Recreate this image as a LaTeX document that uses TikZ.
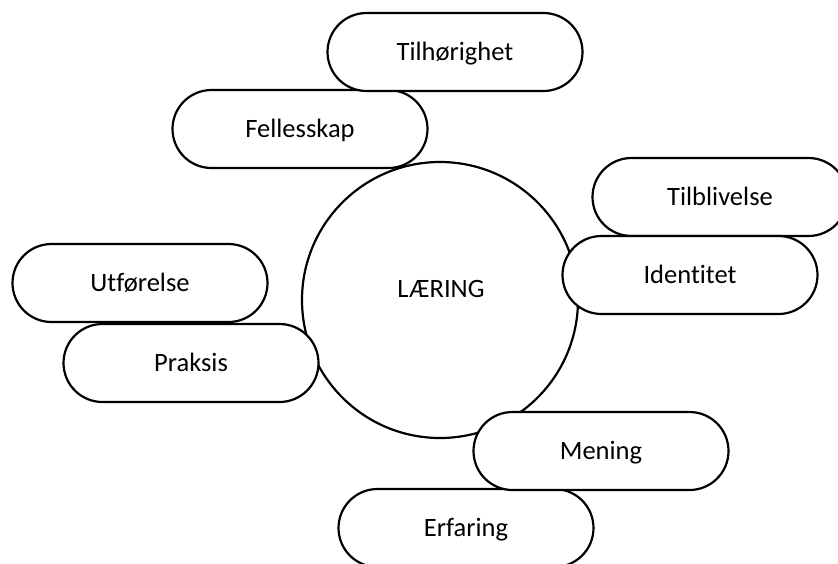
\documentclass[tikz,border=0pt]{standalone}
\usepackage{fontspec}
\setmainfont{Carlito}[Ligatures=NoCommon]

\begin{document}
\begin{tikzpicture}
[x=1pt,y=-1pt,
  textDecorate/.style={font=\fontsize{26.5}{32}\selectfont,text height=17pt,text depth=0pt},%
  circleDecorate/.style={shape=circle,draw,line width=2.2pt,fill=white,minimum size=276pt,inner sep=0pt},%
  boxDecorate/.style={shape=rectangle,rounded corners=39pt,draw,line width=2.2pt,fill=white,minimum width=255pt,minimum height=78pt,textDecorate}]
\useasboundingbox (0,0) rectangle (838,563);
%% centre
\node (laering) at (440,300) [circleDecorate] {};
\node (laeringtext) at (441,289) [textDecorate] {LÆRING};
%% boxes round the centre
\node (fellesskap) at (300,129) [boxDecorate] {Fellesskap};
\node (tilhorighet) at (455,52) [boxDecorate] {Tilhørighet};
\node (tilblivelse) at (720,197) [boxDecorate] {Tilblivelse};
\node (identitet) at (690,275) [boxDecorate] {Identitet};
\node (utforelse) at (140,283) [boxDecorate] {Utførelse};
\node (praksis) at (191,363) [boxDecorate] {Praksis};
\node (erfaring) at (466,528) [boxDecorate] {Erfaring};
\node (mening) at (601,451) [boxDecorate] {Mening};
\end{tikzpicture}
\end{document}
